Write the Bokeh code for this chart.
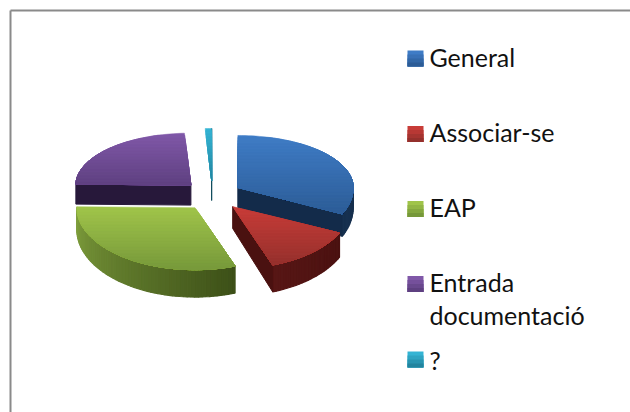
import math
from bokeh.plotting import figure
from bokeh.embed import file_html
from bokeh.resources import INLINE
from bokeh.core.properties import value

categories = ["General", "Associar-se", "EAP", "Entrada\ndocumentació", "?"]
values = [32, 12.5, 30.8, 23.8, 0.9]
top_light = ["#3f7cc6", "#c83c38", "#a0c44a", "#8058a8", "#34b4d4"]
top_dark = ["#2c5c96", "#94302c", "#76983a", "#5e4080", "#22849e"]
wall_dark = ["#132b4a", "#4a1110", "#3d5018", "#27183a", "#0f4a5a"]
wall_light = ["#16304f", "#571615", "#7f9f3d", "#27183a", "#0f4a5a"]
legend_y = [58, 133.5, 208.5, 283.5, 359]
text_y = [56, 131, 206, 281, 359]
LINE_GAP = 33

W, H = 630, 412
CX, CY = 212, 195
RX, RY_BACK, RY_FRONT = 116.5, 52, 62
EX, EY = 30, 15


def lerp(a, b, t):
    a = [int(a[i:i + 2], 16) for i in (1, 3, 5)]
    b = [int(b[i:i + 2], 16) for i in (1, 3, 5)]
    return "#%02x%02x%02x" % tuple(round(u + (v - u) * t) for u, v in zip(a, b))


def rim(th, ty):
    c = math.cos(th)
    rx = RX * (1 + 0.0012 * (ty - CY))
    return rx * math.sin(th), -c * (RY_BACK if c > 0 else RY_FRONT)


def depth(y):
    return 20 + max(0.0, (y - 185)) / 80 * 7


p = figure(width=W, height=H, x_range=(0, W), y_range=(H, 0),
           output_backend="svg", toolbar_location=None, min_border=0,
           x_axis_type=None, y_axis_type=None, background_fill_color="white",
           outline_line_color=None)
p.grid.visible = False
p.segment(x0=[10, 10], y0=[10, 10], x1=[10, W], y1=[H, 10], line_color="#8a8a8a", line_width=2)


def clip_below(poly, yc):
    out = []
    for i, (x0, y0) in enumerate(poly):
        x1, y1 = poly[(i + 1) % len(poly)]
        if y0 >= yc:
            out.append((x0, y0))
        if (y0 >= yc) != (y1 >= yc):
            t = (yc - y0) / (y1 - y0)
            out.append((x0 + (x1 - x0) * t, yc))
    return out


def fill(poly, color, lw=0.5):
    p.patch([q[0] for q in poly], [q[1] for q in poly], fill_color=color,
            line_color=color, line_width=lw)


def drop(q):
    return (q[0], q[1] + depth(q[1]))


total = sum(values)
slices = []
a = 0.0
for i, v in enumerate(values):
    th0 = a / total * 2 * math.pi
    th1 = (a + v) / total * 2 * math.pi
    a += v
    m = (th0 + th1) / 2
    tx, ty = CX + EX * math.sin(m), CY - EY * math.cos(m)
    n = max(3, int(v * 2))
    arc = []
    for k in range(n + 1):
        dx, dy = rim(th0 + (th1 - th0) * k / n, ty)
        arc.append((tx + dx, ty + dy))
    slices.append((i, th0, th1, (tx, ty), arc))

# which radial cut of each slice faces the viewer: 0 = start edge, -1 = end edge
visible_cut = {0: -1, 1: -1, 3: 0, 4: -1}

# back to front
for i in [3, 4, 0, 2, 1]:
    _, th0, th1, tip, arc = slices[i]
    # outer wall in shaded segments (only the front half of the rim shows)
    if i in (0, 1, 2):
        for k in range(len(arc) - 1):
            q0, q1 = arc[k], arc[k + 1]
            if (th0 + (th1 - th0) * (k + 1) / (len(arc) - 1)) <= math.pi / 2:
                continue
            t = k / max(1, len(arc) - 2)
            fill([q0, q1, drop(q1), drop(q0)], lerp(wall_dark[i], wall_light[i], t), 1.2)
    if i in visible_cut:
        q = arc[visible_cut[i]]
        fill([tip, q, drop(q), drop(tip)], wall_dark[i], 1)
    # top face, vertical gradient painted downward
    poly = [tip] + arc
    ys = [q[1] for q in poly]
    y0, y1 = min(ys), max(ys)
    steps = max(2, int((y1 - y0) / 3))
    for s in range(steps):
        yc = y0 - 1 + (y1 - y0 + 1) * s / steps
        sub = clip_below(poly, yc)
        if len(sub) >= 3:
            fill(sub, lerp(top_light[i], top_dark[i], s / steps))

# legend: swatches painted downward so the gradient has no seams
SW = 16
for i, name in enumerate(categories):
    yc = legend_y[i]
    for s in range(4):
        p.quad(left=[407], right=[407 + SW], top=[yc - SW / 2 + SW / 4 * s],
               bottom=[yc + SW / 2],
               fill_color=lerp(top_light[i], top_dark[i], s / 3), line_color=None)
    for j, line in enumerate(name.split("\n")):
        p.text(x=[429], y=[text_y[i] + j * LINE_GAP], text=[line], text_font=value("Lato"),
               text_font_size="25px", text_baseline="middle", text_color="#111111")

open("out.html", "w").write(file_html(p, INLINE))
